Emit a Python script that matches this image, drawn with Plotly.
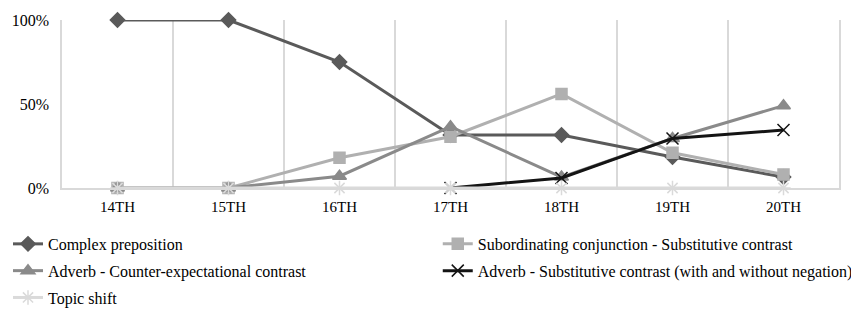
import plotly.graph_objects as go

centuries = ["14TH", "15TH", "16TH", "17TH", "18TH", "19TH", "20TH"]
complex_prep = [100, 100, 75, 31.5, 31.5, 18.5, 6.5]
subord_conj = [0, 0, 18, 30.5, 56, 21, 8]
adv_counter = [0, 0, 7, 36.5, 6.5, 29.5, 49]
adv_subst = [None, None, None, 0, 6, 29.5, 34.5]
topic_shift = [0, 0, 0, 0, 0, 0, 0]
y_ticks = [0, 50, 100]
y_tick_labels = ["0%", "50%", "100%"]

names = [
    "Complex preposition",
    "Subordinating conjunction - Substitutive contrast",
    "Adverb - Counter-expectational contrast",
    "Adverb - Substitutive contrast (with and without negation)",
    "Topic shift",
]
series = [complex_prep, subord_conj, adv_counter, adv_subst, topic_shift]
colors = ["#5a5a5a", "#b0b0b0", "#8a8a8a", "#141414", "#dadada"]
symbols = ["diamond", "square", "triangle-up", "x-thin-open", "asterisk-open"]
sizes = [11, 11, 12, 12, 12]
legends = ["legend", "legend2", "legend", "legend2", "legend"]

SERIF = "'Liberation Serif', 'DejaVu Serif', serif"

fig = go.Figure()
for i, (n, s, c, sym, sz, lg) in enumerate(zip(names, series, colors, symbols, sizes, legends)):
    fig.add_trace(go.Scatter(
        x=centuries, y=s, name=n, mode="lines+markers",
        line=dict(color=c, width=3),
        marker=dict(symbol=sym, size=sz, color=c, line=dict(color=c, width=1.5)),
        cliponaxis=False, legend=lg, legendgroup=f"g{i}",
    ))

leg_common = dict(
    orientation="v", xref="container", yref="container", xanchor="left", yanchor="top",
    font=dict(family=SERIF, size=16, color="#000000"),
    itemwidth=30, tracegroupgap=3, bgcolor="rgba(0,0,0,0)",
)
fig.update_layout(
    width=851, height=302,
    margin=dict(l=54, r=20, t=12, b=122, autoexpand=False),
    paper_bgcolor="white", plot_bgcolor="white",
    font=dict(family=SERIF, size=16, color="#000000"),
    showlegend=True,
    legend=dict(x=0.0, y=0.275, **leg_common),
    legend2=dict(x=0.505, y=0.275, **leg_common),
    xaxis=dict(
        type="category", range=[-0.5, 6.5], tickson="boundaries",
        showgrid=True, gridcolor="#d9d9d9", gridwidth=1.5,
        showline=True, linecolor="#d9d9d9", linewidth=2,
        ticks="", tickfont=dict(family=SERIF, size=15),
        ticklabelstandoff=4, zeroline=False,
    ),
    yaxis=dict(
        range=[0, 100], tickvals=y_ticks, ticktext=y_tick_labels,
        showgrid=False, zeroline=False,
        showline=True, mirror=True, linecolor="#d9d9d9", linewidth=1.5,
        ticks="", tickfont=dict(family=SERIF, size=16),
        ticklabelstandoff=8,
    ),
)
fig.write_html("out.html")
